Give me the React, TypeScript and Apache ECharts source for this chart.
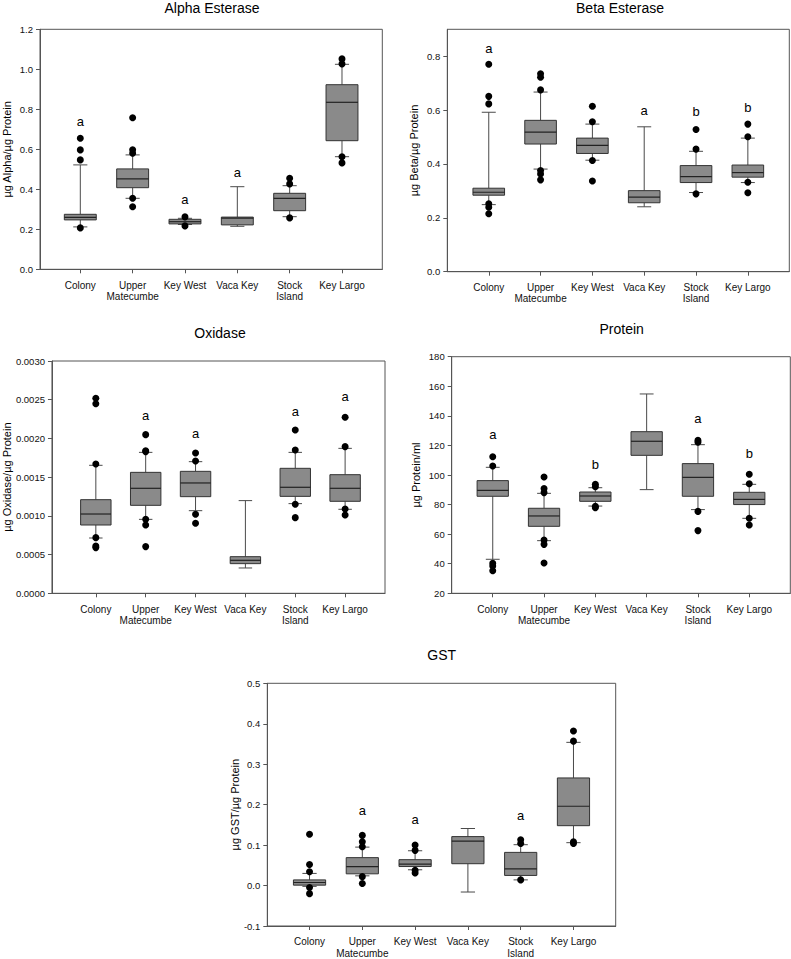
import React, { useEffect, useRef } from 'react';
import * as echarts from 'echarts';

const FONT = '"Liberation Sans", Arial, Helvetica, sans-serif';

const categories = ['Colony', 'Upper\nMatecumbe', 'Key West', 'Vaca Key', 'Stock\nIsland', 'Key Largo'];
const categoryPositions = [1, 2, 3, 4, 5, 6];

// Each box: [lower whisker, Q1, median, Q3, upper whisker]
const alphaBoxes = [
  [0.212, 0.247, 0.26, 0.275, 0.522],
  [0.355, 0.408, 0.452, 0.502, 0.572],
  [0.224, 0.227, 0.238, 0.25, 0.255],
  [0.215, 0.222, 0.256, 0.261, 0.413],
  [0.263, 0.293, 0.355, 0.38, 0.418],
  [0.563, 0.643, 0.835, 0.923, 1.025],
];
// Outliers: [category position, value]
const alphaOutliers = [
  [1, 0.655], [1, 0.597], [1, 0.547], [1, 0.207],
  [2, 0.758], [2, 0.598], [2, 0.58], [2, 0.355], [2, 0.313],
  [3, 0.262], [3, 0.217],
  [5, 0.455], [5, 0.427], [5, 0.257],
  [6, 1.052], [6, 1.027], [6, 0.563], [6, 0.532],
];
const alphaLetters = [[1, 0.74, 'a'], [3, 0.347, 'a'], [4, 0.485, 'a']];
const alphaTicks = [0, 0.2, 0.4, 0.6, 0.8, 1.0, 1.2];

const betaBoxes = [
  [0.249, 0.284, 0.295, 0.31, 0.592],
  [0.381, 0.474, 0.518, 0.562, 0.667],
  [0.414, 0.439, 0.469, 0.496, 0.548],
  [0.241, 0.256, 0.277, 0.301, 0.538],
  [0.294, 0.331, 0.353, 0.394, 0.447],
  [0.331, 0.351, 0.368, 0.396, 0.496],
];
const betaOutliers = [
  [1, 0.77], [1, 0.651], [1, 0.623], [1, 0.252], [1, 0.239], [1, 0.215],
  [2, 0.735], [2, 0.722], [2, 0.675], [2, 0.376], [2, 0.363], [2, 0.341],
  [3, 0.614], [3, 0.557], [3, 0.413], [3, 0.337],
  [5, 0.528], [5, 0.455], [5, 0.289],
  [6, 0.548], [6, 0.501], [6, 0.332], [6, 0.293],
];
const betaLetters = [[1, 0.83, 'a'], [4, 0.6, 'a'], [5, 0.595, 'b'], [6, 0.61, 'b']];
const betaTicks = [0, 0.2, 0.4, 0.6, 0.8];

const oxidaseBoxes = [
  [0.000714, 0.000882, 0.001024, 0.001209, 0.001653],
  [0.000955, 0.001136, 0.001356, 0.001562, 0.00182],
  [0.001067, 0.001248, 0.001425, 0.001575, 0.0017],
  [0.000327, 0.000383, 0.000426, 0.000473, 0.001197],
  [0.001158, 0.001252, 0.001369, 0.001614, 0.00182],
  [0.001085, 0.001188, 0.001356, 0.001532, 0.001872],
];
const oxidaseOutliers = [
  [1, 0.002518], [1, 0.002449], [1, 0.00167], [1, 0.000719], [1, 0.000611], [1, 0.00059],
  [2, 0.002049], [2, 0.001842], [2, 0.00183], [2, 0.000955], [2, 0.000882], [2, 0.000603],
  [3, 0.001812], [3, 0.001709], [3, 0.00102], [3, 0.000904],
  [5, 0.002109], [5, 0.001851], [5, 0.001149], [5, 0.000977],
  [6, 0.002273], [6, 0.001894], [6, 0.001089], [6, 0.001011],
];
const oxidaseLetters = [[2, 0.0023, 'a'], [3, 0.002066, 'a'], [5, 0.002354, 'a'], [6, 0.00254, 'a']];
const oxidaseTicks = [0, 0.0005, 0.001, 0.0015, 0.002, 0.0025, 0.003];

const proteinBoxes = [
  [43.0, 85.6, 89.6, 96.2, 105.2],
  [55.6, 65.3, 72.3, 77.5, 87.6],
  [79.0, 82.2, 85.8, 88.5, 91.4],
  [90.1, 113.3, 122.8, 129.3, 154.8],
  [76.6, 85.6, 98.4, 107.7, 120.5],
  [70.7, 80.0, 83.5, 88.3, 93.7],
];
const proteinOutliers = [
  [1, 112.4], [1, 106.1], [1, 40.3], [1, 38.5], [1, 35.3],
  [2, 98.6], [2, 90.8], [2, 88.1], [2, 56.1], [2, 53.1], [2, 40.5],
  [3, 93.7], [3, 92.1], [3, 78.8], [3, 77.9],
  [5, 123.4], [5, 122.1], [5, 75.4], [5, 62.4],
  [6, 100.5], [6, 94.1], [6, 70.7], [6, 66.2],
];
const proteinLetters = [[1, 127.7, 'a'], [3, 106.8, 'b'], [5, 137.9, 'a'], [6, 114.6, 'b']];
const proteinTicks = [20, 40, 60, 80, 100, 120, 140, 160, 180];

const gstBoxes = [
  [-0.002, 0.001, 0.0075, 0.014, 0.03],
  [0.024, 0.029, 0.047, 0.069, 0.095],
  [0.039, 0.047, 0.053, 0.064, 0.086],
  [-0.016, 0.054, 0.11, 0.121, 0.141],
  [0.014, 0.025, 0.041, 0.082, 0.101],
  [0.106, 0.148, 0.196, 0.266, 0.354],
];
const gstOutliers = [
  [1, 0.127], [1, 0.052], [1, 0.034], [1, -0.005], [1, -0.02],
  [2, 0.124], [2, 0.108], [2, 0.096], [2, 0.022], [2, 0.005],
  [3, 0.1], [3, 0.087], [3, 0.038], [3, 0.031],
  [5, 0.113], [5, 0.104], [5, 0.014],
  [6, 0.382], [6, 0.357], [6, 0.108], [6, 0.104],
];
const gstLetters = [[2, 0.185, 'a'], [3, 0.164, 'a'], [5, 0.174, 'a']];
const gstTicks = [-0.1, 0, 0.1, 0.2, 0.3, 0.4, 0.5];

const panels = [
  {
    title: 'Alpha Esterase', titleX: 212, titleY: 7.5,
    grid: { left: 40, top: 29.3, width: 342.3, height: 240 },
    xMin: 0.23, xMax: 6.77, yMin: 0, yMax: 1.2, ticks: alphaTicks, decimals: 1,
    yName: 'µg Alpha/µg Protein', nameGap: 27.5,
    boxes: alphaBoxes, outliers: alphaOutliers, letters: alphaLetters,
  },
  {
    title: 'Beta Esterase', titleX: 620, titleY: 7.5,
    grid: { left: 447.3, top: 29.3, width: 342, height: 242.4 },
    xMin: 0.2, xMax: 6.8, yMin: 0, yMax: 0.9, ticks: betaTicks, decimals: 1,
    yName: 'µg Beta/µg Protein', nameGap: 27.5,
    boxes: betaBoxes, outliers: betaOutliers, letters: betaLetters,
  },
  {
    title: 'Oxidase', titleX: 220, titleY: 333.3,
    grid: { left: 50, top: 361, width: 335, height: 232.3 },
    xMin: 0.12, xMax: 6.8, yMin: 0, yMax: 0.003, ticks: oxidaseTicks, decimals: 4,
    yName: 'µg Oxidase/µg Protein', nameGap: 38.5,
    boxes: oxidaseBoxes, outliers: oxidaseOutliers, letters: oxidaseLetters,
  },
  {
    title: 'Protein', titleX: 621.7, titleY: 328.7,
    grid: { left: 451.7, top: 356.7, width: 338.6, height: 236.6 },
    xMin: 0.2, xMax: 6.8, yMin: 20, yMax: 180, ticks: proteinTicks, decimals: 0,
    yName: 'µg Protein/ml', nameGap: 30,
    boxes: proteinBoxes, outliers: proteinOutliers, letters: proteinLetters,
  },
  {
    title: 'GST', titleX: 441.7, titleY: 654.7,
    grid: { left: 267.3, top: 683.3, width: 348.4, height: 245.7 },
    xMin: 0.2, xMax: 6.8, yMin: -0.1, yMax: 0.5, ticks: gstTicks, decimals: 1,
    yName: 'µg GST/µg Protein', nameGap: 24.5,
    boxes: gstBoxes, outliers: gstOutliers, letters: gstLetters,
  },
];

const BOX_W = 0.61;
const CAP_W = 0.27;
const AXIS_COLOR = '#555';

const renderBox = (params: any, api: any) => {
  const x = api.value(0);
  const lo = api.coord([x, api.value(1)]);
  const q1 = api.coord([x, api.value(2)]);
  const med = api.coord([x, api.value(3)]);
  const q3 = api.coord([x, api.value(4)]);
  const hi = api.coord([x, api.value(5)]);
  const bw = api.size([BOX_W, 0])[0];
  const cw = api.size([CAP_W, 0])[0];
  const cx = q1[0];
  const ws = { stroke: '#4a4a4a', lineWidth: 1 };
  return {
    type: 'group',
    children: [
      { type: 'line', shape: { x1: cx, y1: q3[1], x2: cx, y2: hi[1] }, style: ws },
      { type: 'line', shape: { x1: cx, y1: q1[1], x2: cx, y2: lo[1] }, style: ws },
      { type: 'line', shape: { x1: cx - cw / 2, y1: hi[1], x2: cx + cw / 2, y2: hi[1] }, style: ws },
      { type: 'line', shape: { x1: cx - cw / 2, y1: lo[1], x2: cx + cw / 2, y2: lo[1] }, style: ws },
      {
        type: 'rect',
        shape: { x: cx - bw / 2, y: q3[1], width: bw, height: q1[1] - q3[1] },
        style: { fill: '#8a8a8a', stroke: '#333', lineWidth: 1 },
      },
      { type: 'line', shape: { x1: cx - bw / 2, y1: med[1], x2: cx + bw / 2, y2: med[1] }, style: { stroke: '#222', lineWidth: 1.2 } },
    ],
  };
};

const renderLetter = (params: any, api: any) => {
  const p = api.coord([api.value(0), api.value(1)]);
  return {
    type: 'text',
    x: p[0],
    y: p[1],
    style: {
      text: String(api.value(2)),
      fill: '#000',
      font: `13px ${FONT}`,
      align: 'center',
      verticalAlign: 'middle',
    },
  };
};

export default function App() {
  const ref = useRef<HTMLDivElement>(null);
  useEffect(() => {
    if (!ref.current) return;
    const chart = echarts.init(ref.current, undefined, { renderer: 'svg' });
    const series: any[] = [];
    panels.forEach((p, i) => {
      series.push({
        type: 'custom',
        xAxisIndex: i,
        yAxisIndex: i,
        renderItem: renderBox,
        encode: { x: 0, y: [1, 2, 3, 4, 5] },
        data: p.boxes.map((b, k) => [categoryPositions[k], ...b]),
        z: 2,
      });
      series.push({
        type: 'scatter',
        xAxisIndex: i,
        yAxisIndex: i,
        symbol: 'circle',
        symbolSize: 7,
        itemStyle: { color: '#000', opacity: 1 },
        data: p.outliers,
        z: 3,
      });
      series.push({
        type: 'custom',
        xAxisIndex: i,
        yAxisIndex: i,
        renderItem: renderLetter,
        dimensions: ['x', 'y', { name: 'letter', type: 'ordinal' }],
        encode: { x: 0, y: 1 },
        data: p.letters,
        z: 4,
      });
    });
    chart.setOption({
      animation: false,
      backgroundColor: '#fff',
      grid: panels.map((p) => ({
        ...p.grid,
        show: true,
        borderColor: AXIS_COLOR,
        borderWidth: 1,
        containLabel: false,
      })),
      xAxis: panels.map((p, i) => ({
        type: 'value',
        gridIndex: i,
        min: p.xMin,
        max: p.xMax,
        axisLine: { show: true, onZero: false, lineStyle: { color: AXIS_COLOR, width: 1 } },
        axisTick: { show: true, customValues: categoryPositions, length: 4, lineStyle: { color: AXIS_COLOR } },
        axisLabel: {
          show: true,
          customValues: categoryPositions,
          formatter: (v: number) => categories[Math.round(v) - 1] ?? '',
          fontSize: 10,
          fontFamily: FONT,
          color: '#111',
          lineHeight: 11.5,
          verticalAlign: 'top',
          margin: 10,
        },
        splitLine: { show: false },
      })),
      yAxis: panels.map((p, i) => ({
        type: 'value',
        gridIndex: i,
        min: p.yMin,
        max: p.yMax,
        axisLine: { show: true, onZero: false, lineStyle: { color: AXIS_COLOR, width: 1 } },
        axisTick: { show: true, customValues: p.ticks, length: 4, lineStyle: { color: AXIS_COLOR } },
        axisLabel: {
          show: true,
          customValues: p.ticks,
          formatter: (v: number) => v.toFixed(p.decimals),
          fontSize: 9.5,
          fontFamily: FONT,
          color: '#111',
          margin: 7,
        },
        splitLine: { show: false },
        name: p.yName,
        nameLocation: 'middle',
        nameGap: p.nameGap,
        nameTextStyle: { fontSize: 11, fontFamily: FONT, color: '#000' },
      })),
      graphic: panels.map((p) => ({
        type: 'text',
        x: p.titleX,
        y: p.titleY,
        style: {
          text: p.title,
          fill: '#000',
          font: `14px ${FONT}`,
          align: 'center',
          verticalAlign: 'middle',
        },
      })),
      series,
    });
    return () => chart.dispose();
  }, []);
  return (
    <div
      ref={ref}
      style={{ position: 'absolute', left: 0, top: 0, width: 791, height: 959 }}
    />
  );
}
